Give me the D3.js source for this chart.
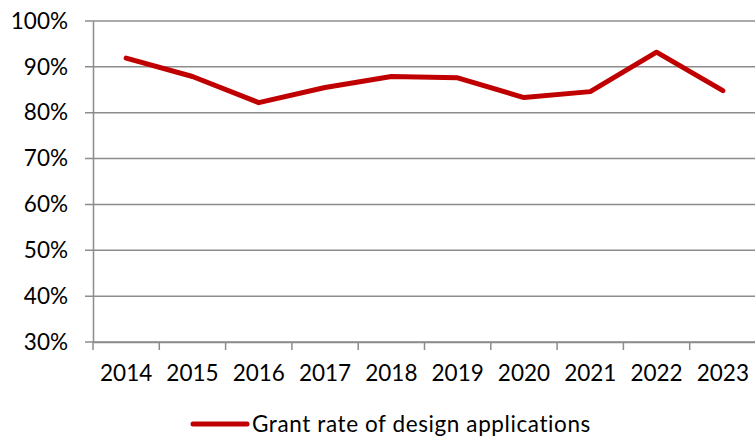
<!DOCTYPE html>
<html>
<head>
<meta charset="utf-8">
<script src="https://cdn.jsdelivr.net/npm/d3@7"></script>
<style>
  body { margin: 0; background: #fff; }
  svg { display: block; }
  text { font-family: Lato, "Open Sans", sans-serif; fill: #000; }
</style>
</head>
<body>
<div class="graph"></div>
<script>
const years = ['2014', '2015', '2016', '2017', '2018', '2019', '2020', '2021', '2022', '2023'];
const grantRate = [0.919, 0.879, 0.822, 0.855, 0.879, 0.876, 0.833, 0.846, 0.932, 0.848];
const yTicks = [0.3, 0.4, 0.5, 0.6, 0.7, 0.8, 0.9, 1.0];
const seriesName = 'Grant rate of design applications';

const W = 755, H = 436;
const margin = { top: 21, right: -1, bottom: 94, left: 93 };
const width = W - margin.left - margin.right;
const height = H - margin.top - margin.bottom;

const svg = d3.select('.graph').append('svg')
  .attr('width', W)
  .attr('height', H);

const g = svg.append('g')
  .attr('transform', `translate(${margin.left},${margin.top})`);

const x = d3.scaleBand()
  .domain(years)
  .range([0, width]);

const y = d3.scaleLinear()
  .domain([0.3, 1.0])
  .range([height, 0]);

// gridlines
g.append('g')
  .selectAll('line')
  .data(yTicks)
  .join('line')
  .attr('x1', -8)
  .attr('x2', width)
  .attr('y1', d => y(d))
  .attr('y2', d => y(d))
  .attr('stroke', '#8c8c8c')
  .attr('stroke-width', 1.5);

// y axis
const yAxis = g.append('g')
  .call(d3.axisLeft(y).tickValues(yTicks).tickFormat(d3.format('.0%')).tickSize(0).tickPadding(25));
yAxis.select('.domain').attr('stroke', '#8c8c8c').attr('stroke-width', 1.5);
yAxis.selectAll('text').style('font-size', '22.5px');

// x axis, ticks sit between the categories
const xAxis = g.append('g')
  .attr('transform', `translate(0,${height})`)
  .call(d3.axisBottom(x).tickSize(0).tickPadding(23));
xAxis.select('.domain').attr('stroke', '#8c8c8c').attr('stroke-width', 1.5);
xAxis.selectAll('text').style('font-size', '22.5px');

const bounds = years.map(d => x(d)).concat([width]);
xAxis.append('g')
  .selectAll('line')
  .data(bounds)
  .join('line')
  .attr('x1', d => d)
  .attr('x2', d => d)
  .attr('y1', 0)
  .attr('y2', 8)
  .attr('stroke', '#8c8c8c')
  .attr('stroke-width', 1.5);

// series line
const line = d3.line()
  .x((d, i) => x(years[i]) + x.bandwidth() / 2)
  .y(d => y(d));

g.append('path')
  .datum(grantRate)
  .attr('fill', 'none')
  .attr('stroke', '#c00000')
  .attr('stroke-width', 5)
  .attr('stroke-linejoin', 'round')
  .attr('stroke-linecap', 'round')
  .attr('d', line);

// legend
const legend = svg.append('g')
  .attr('transform', 'translate(193,424)');
legend.append('line')
  .attr('x1', 0)
  .attr('x2', 54)
  .attr('stroke', '#c00000')
  .attr('stroke-width', 5)
  .attr('stroke-linecap', 'round');
legend.append('text')
  .attr('x', 59)
  .attr('y', 8)
  .style('font-size', '22.5px')
  .style('letter-spacing', '0.6px')
  .text(seriesName);
</script>
</body>
</html>
